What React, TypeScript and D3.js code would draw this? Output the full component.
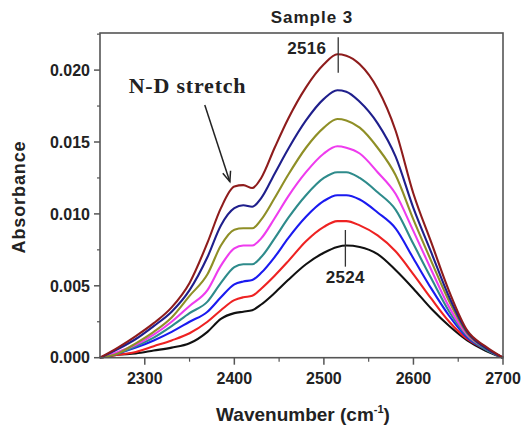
import React from "react";
import * as d3 from "d3";

const wavenumbers = [2250, 2270, 2290, 2310, 2330, 2350, 2370, 2385, 2400, 2410, 2420, 2430, 2445, 2460, 2480, 2500, 2515, 2525, 2540, 2560, 2580, 2600, 2620, 2640, 2660, 2680, 2700];

const black = [0, 0.0002, 0.0003, 0.0005, 0.0007, 0.001, 0.0018, 0.0027, 0.0031, 0.0032, 0.0033, 0.0037, 0.0045, 0.0054, 0.0065, 0.0073, 0.0077, 0.0078, 0.0077, 0.0072, 0.0061, 0.0048, 0.0034, 0.0022, 0.0012, 0.0005, 0];
const red = [0, 0.0002, 0.0004, 0.0008, 0.0012, 0.0017, 0.0025, 0.0033, 0.004, 0.0042, 0.0043, 0.0048, 0.0057, 0.0067, 0.0081, 0.0091, 0.0095, 0.0095, 0.0092, 0.0085, 0.0074, 0.0058, 0.0041, 0.0025, 0.0013, 0.0006, 0];
const blue = [0, 0.0003, 0.0007, 0.0012, 0.0018, 0.0025, 0.0032, 0.0042, 0.0051, 0.0053, 0.0054, 0.0059, 0.007, 0.0083, 0.0098, 0.0109, 0.0113, 0.0113, 0.011, 0.0101, 0.009, 0.0069, 0.0048, 0.0029, 0.0014, 0.0006, 0];
const teal = [0, 0.0003, 0.0008, 0.0014, 0.0022, 0.0031, 0.0039, 0.0052, 0.0063, 0.0065, 0.0065, 0.007, 0.0083, 0.0097, 0.0113, 0.0125, 0.0129, 0.0129, 0.0125, 0.0115, 0.0103, 0.0079, 0.0055, 0.0032, 0.0015, 0.0006, 0];
const magenta = [0, 0.0004, 0.0009, 0.0016, 0.0025, 0.0036, 0.0047, 0.0064, 0.0076, 0.0078, 0.0078, 0.0083, 0.0097, 0.0112, 0.0129, 0.0142, 0.0147, 0.0146, 0.0142, 0.0129, 0.0114, 0.0088, 0.0061, 0.0035, 0.0016, 0.0007, 0];
const olive = [0, 0.0003, 0.001, 0.0018, 0.0028, 0.0043, 0.0058, 0.0078, 0.0089, 0.009, 0.009, 0.0096, 0.0111, 0.0127, 0.0146, 0.016, 0.0166, 0.0165, 0.016, 0.0146, 0.0127, 0.0096, 0.0067, 0.0039, 0.0017, 0.0007, 0];
const navy = [0, 0.0006, 0.0013, 0.0022, 0.0032, 0.0047, 0.007, 0.0092, 0.0104, 0.0106, 0.0105, 0.0111, 0.0128, 0.0145, 0.0165, 0.018, 0.0186, 0.0185, 0.0178, 0.0163, 0.014, 0.0104, 0.0073, 0.0042, 0.0018, 0.0007, 0];
const darkRed = [0, 0.0007, 0.0015, 0.0024, 0.0035, 0.0052, 0.008, 0.0104, 0.0119, 0.012, 0.0118, 0.0125, 0.0146, 0.0166, 0.0188, 0.0204, 0.0211, 0.021, 0.0204, 0.0187, 0.0158, 0.0114, 0.008, 0.0046, 0.0019, 0.0008, 0];

const seriesList = [black, red, blue, teal, magenta, olive, navy, darkRed];
const seriesColors = ["#111111", "#ee2222", "#1a1af0", "#2e8b8b", "#ee3cee", "#8f8f26", "#1f1f8c", "#8e1c1c"];

const xTicks = [2300, 2400, 2500, 2600, 2700];
const xMinor = [2350, 2450, 2550, 2650];
const yTicks = [0, 0.005, 0.01, 0.015, 0.02];
const yMinor = [0.0025, 0.0075, 0.0125, 0.0175, 0.0225];

const FONT = "'Liberation Sans', Arial, sans-serif";

export default function App() {
  const left = 100, right = 503, top = 33, bottom = 357.7;
  const x = d3.scaleLinear().domain([2250, 2700]).range([left, right]);
  const y = d3.scaleLinear().domain([0, 0.02258]).range([bottom, top]);

  const line = d3
    .line<number>()
    .x((_, i) => x(wavenumbers[i]))
    .y((d) => y(d))
    .curve(d3.curveMonotoneX);

  // arrow for "N-D stretch"
  const ax1 = x(2367), ay1 = y(0.01757);
  const ax2 = x(2395), ay2 = y(0.01224);
  const ang = Math.atan2(ay2 - ay1, ax2 - ax1);
  const headLen = 11;
  const h1 = [ax2 - headLen * Math.cos(ang - 0.38), ay2 - headLen * Math.sin(ang - 0.38)];
  const h2 = [ax2 - headLen * Math.cos(ang + 0.38), ay2 - headLen * Math.sin(ang + 0.38)];

  return (
    <svg
      width={527}
      height={427}
      style={{ position: "absolute", left: 0, top: 0, background: "#fff" }}
      fontFamily={FONT}
      fontWeight="bold"
    >
      <rect x={0} y={0} width={527} height={427} fill="#fff" />

      {/* curves */}
      {seriesList.map((s, i) => (
        <path key={i} d={line(s) ?? ""} fill="none" stroke={seriesColors[i]} strokeWidth={2.1} strokeLinejoin="round" />
      ))}

      {/* frame */}
      <rect x={left} y={top} width={right - left} height={bottom - top} fill="none" stroke="#555" strokeWidth={1.6} />

      {/* y ticks */}
      {yTicks.map((t) => (
        <g key={t}>
          <line x1={left - 6} x2={left} y1={y(t)} y2={y(t)} stroke="#555" strokeWidth={1.5} />
          <text x={left - 10} y={y(t)} dy="0.36em" textAnchor="end" fontSize={16} fill="#222">
            {d3.format(".3f")(t)}
          </text>
        </g>
      ))}
      {yMinor.map((t) => (
        <line key={t} x1={left - 3} x2={left} y1={y(t)} y2={y(t)} stroke="#555" strokeWidth={1.2} />
      ))}

      {/* x ticks */}
      {xTicks.map((t) => (
        <g key={t}>
          <line x1={x(t)} x2={x(t)} y1={bottom} y2={bottom + 7} stroke="#555" strokeWidth={1.5} />
          <text x={x(t)} y={bottom + 26} textAnchor="middle" fontSize={16} fill="#222">
            {t}
          </text>
        </g>
      ))}
      {xMinor.map((t) => (
        <line key={t} x1={x(t)} x2={x(t)} y1={bottom} y2={bottom + 4} stroke="#555" strokeWidth={1.2} />
      ))}

      {/* titles */}
      <text x={312} y={23} textAnchor="middle" fontSize={17} fill="#222" letterSpacing={1}>
        Sample 3
      </text>
      <text x={303} y={421} textAnchor="middle" fontSize={19} fill="#222">
        Wavenumber (cm<tspan fontSize={11} dy={-8}>-1</tspan>
        <tspan dy={8}>)</tspan>
      </text>
      <text transform="translate(25,197) rotate(-90)" textAnchor="middle" fontSize={18} fill="#222" letterSpacing={0.9}>
        Absorbance
      </text>

      {/* annotations */}
      <line x1={x(2516)} x2={x(2516)} y1={y(0.02228)} y2={y(0.01982)} stroke="#333" strokeWidth={1.3} />
      <text x={x(2516) - 12} y={54} textAnchor="end" fontSize={17} fill="#222" letterSpacing={0.3}>
        2516
      </text>
      <line x1={x(2524)} x2={x(2524)} y1={y(0.00888)} y2={y(0.00633)} stroke="#333" strokeWidth={1.3} />
      <text x={x(2524)} y={283} textAnchor="middle" fontSize={17} fill="#222" letterSpacing={0.3}>
        2524
      </text>

      <text x={x(2282)} y={92.7} fontFamily="'Liberation Serif', 'Times New Roman', serif" fontSize={22} fill="#222" letterSpacing={0.8}>
        N-D stretch
      </text>
      <line x1={ax1} y1={ay1} x2={ax2} y2={ay2} stroke="#222" strokeWidth={1.5} />
      <path d={`M${h1[0]},${h1[1]} L${ax2},${ay2} L${h2[0]},${h2[1]}`} fill="none" stroke="#222" strokeWidth={1.5} />
    </svg>
  );
}
